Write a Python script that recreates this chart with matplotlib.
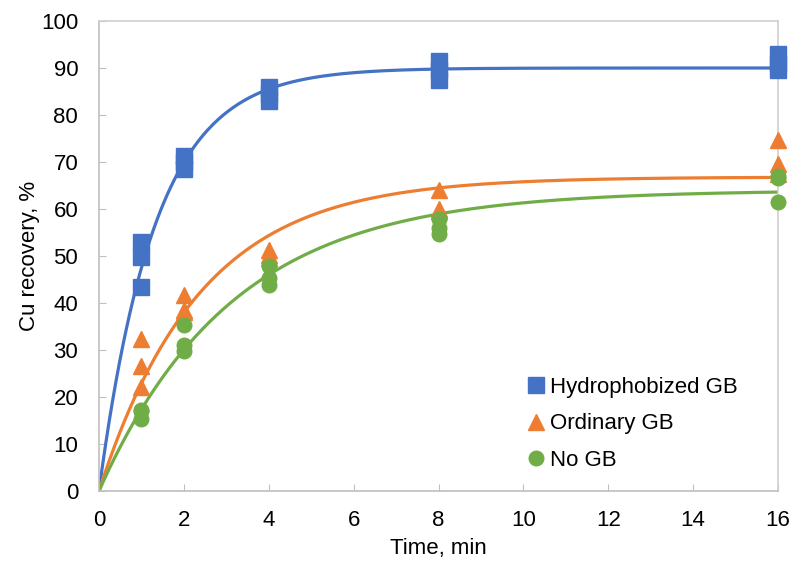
import numpy as np
import matplotlib
matplotlib.use('Agg')
import matplotlib.pyplot as plt

plt.rcParams['font.family'] = ['Liberation Sans', 'DejaVu Sans']

# ── Datos ────────────────────────────────────────────────────────────────────
t_points = [1, 1, 1, 2, 2, 2, 4, 4, 4, 8, 8, 8, 16, 16, 16]

hydro_rec = [43.3, 49.7, 53.0, 68.5, 70.0, 71.2, 83.0, 84.5, 86.0,
             87.5, 89.5, 91.5, 89.5, 91.0, 93.0]
ordin_rec = [22.2, 26.6, 32.4, 38.0, 38.5, 41.6, 49.5, 50.2, 51.2,
             59.5, 60.0, 64.0, 67.5, 69.5, 74.6]
nogb_rec = [15.4, 17.0, 17.3, 29.8, 31.1, 35.4, 43.9, 45.4, 47.8,
            54.6, 56.0, 57.8, 61.4, 66.5, 67.0]

# Ajuste cinético de primer orden R = Rmax * (1 - exp(-k t))
fit_params = {
    'Hydrophobized GB': (90.0, 0.75),
    'Ordinary GB': (66.8, 0.42),
    'No GB': (64.0, 0.317),
}

series = [
    ('Hydrophobized GB', hydro_rec, '#4472C4', 's', 11),
    ('Ordinary GB', ordin_rec, '#ED7D31', '^', 11.5),
    ('No GB', nogb_rec, '#70AD47', 'o', 10.5),
]

x_ticks = [0, 2, 4, 6, 8, 10, 12, 14, 16]
y_ticks = [0, 10, 20, 30, 40, 50, 60, 70, 80, 90, 100]

fig = plt.figure(figsize=(7.9, 5.63), dpi=100)
ax = fig.add_axes([99 / 790, 72 / 563, 679 / 790, 470 / 563])

t_fit = np.linspace(0, 16, 400)
for name, vals, color, mk, ms in series:
    rmax, k = fit_params[name]
    ax.plot(t_fit, rmax * (1 - np.exp(-k * t_fit)), color=color, lw=2.3,
            zorder=2)
for name, vals, color, mk, ms in series:
    ax.plot(t_points, vals, ls='none', marker=mk, ms=ms, color=color,
            mec=color, label=name, zorder=3, clip_on=False)

ax.set_xlim(0, 16)
ax.set_ylim(0, 100)
ax.set_xticks(x_ticks)
ax.set_yticks(y_ticks)
ax.tick_params(axis='both', direction='in', length=5, color='#BFBFBF',
               labelsize=16)
ax.tick_params(axis='y', pad=15)
ax.tick_params(axis='x', pad=14)
for sp in ax.spines.values():
    sp.set_color('#D0D0D0')
    sp.set_linewidth(1.2)
ax.spines['left'].set_color('#BFBFBF')
ax.spines['bottom'].set_color('#BFBFBF')

ax.set_xlabel('Time, min', fontsize=16, labelpad=5)
ax.set_ylabel('Cu recovery, %', fontsize=16, labelpad=1)

ax.legend(loc='upper left', bbox_to_anchor=(0.62, 0.262), frameon=False,
          fontsize=16, handlelength=0.6, handletextpad=0.35,
          labelspacing=0.7, borderaxespad=0)

fig.savefig('out.png', dpi=100)
